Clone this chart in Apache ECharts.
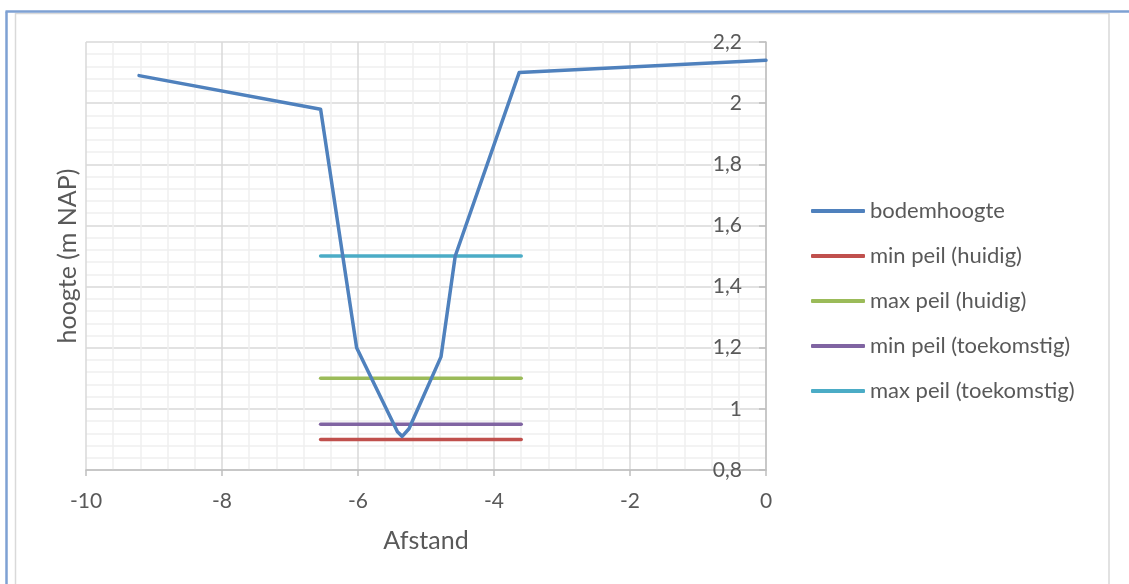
<!DOCTYPE html>
<html>
<head>
<meta charset="utf-8">
<script src="https://cdn.jsdelivr.net/npm/echarts@6/dist/echarts.min.js"></script>
<style>
html,body{margin:0;padding:0;background:#fff;}
#chart{width:1129px;height:584px;}
</style>
</head>
<body>
<div id="chart"></div>
<script>
// Data
var bodemX = [-9.22, -6.55, -6.02, -5.42, -5.35, -5.25, -4.78, -4.57, -3.63, 0];
var bodemY = [2.09, 1.98, 1.20, 0.925, 0.91, 0.935, 1.17, 1.50, 2.10, 2.14];
var peilX = [-6.55, -3.6];
var minPeilHuidig = 0.90;
var maxPeilHuidig = 1.10;
var minPeilToekomstig = 0.95;
var maxPeilToekomstig = 1.50;
var seriesNames = ['bodemhoogte', 'min peil (huidig)', 'max peil (huidig)', 'min peil (toekomstig)', 'max peil (toekomstig)'];
var seriesColors = ['#4F81BD', '#C0504D', '#9BBB59', '#8064A2', '#4BACC6'];
var xTicks = [-10, -8, -6, -4, -2, 0];
var yTicks = [0.8, 1.0, 1.2, 1.4, 1.6, 1.8, 2.0, 2.2];

function pairs(xs, ys) { return xs.map(function (x, i) { return [x, ys[i]]; }); }
function flat(level) { return peilX.map(function (x) { return [x, level]; }); }

var seriesData = [
  pairs(bodemX, bodemY),
  flat(minPeilHuidig),
  flat(maxPeilHuidig),
  flat(minPeilToekomstig),
  flat(maxPeilToekomstig)
];

var FONT = 'Lato, "Open Sans", sans-serif';
var TXT = '#595959';

var chart = echarts.init(document.getElementById('chart'));
chart.setOption({
  animation: false,
  backgroundColor: '#ffffff',
  grid: { left: 86, right: 363, top: 42, bottom: 114, containLabel: false },
  legend: {
    orient: 'vertical',
    left: 806,
    top: 194,
    itemWidth: 54,
    itemHeight: 4,
    itemGap: 21,
    icon: 'roundRect',
    data: seriesNames,
    textStyle: { fontFamily: FONT, fontSize: 22, color: TXT, lineHeight: 24 }
  },
  xAxis: {
    type: 'value',
    min: xTicks[0],
    max: xTicks[xTicks.length - 1],
    interval: 2,
    name: 'Afstand',
    nameLocation: 'middle',
    nameGap: 58,
    nameTextStyle: { fontFamily: FONT, fontSize: 25, color: TXT },
    axisLine: { show: true, onZero: false, lineStyle: { color: '#BFBFBF', width: 1.5 } },
    axisTick: { show: true, length: 6, lineStyle: { color: '#BFBFBF', width: 1.5 } },
    axisLabel: { fontFamily: FONT, fontSize: 21, color: TXT, margin: 21 },
    splitLine: { show: true, lineStyle: { color: '#D9D9D9', width: 1.5 } },
    minorTick: { show: false, splitNumber: 5 },
    minorSplitLine: { show: true, lineStyle: { color: '#F0F0F0', width: 1.5 } }
  },
  yAxis: {
    type: 'value',
    position: 'right',
    min: yTicks[0],
    max: yTicks[yTicks.length - 1],
    interval: 0.2,
    axisLine: { show: true, onZero: false, lineStyle: { color: '#BFBFBF', width: 1.5 } },
    axisTick: { show: true, inside: true, length: 7, lineStyle: { color: '#BFBFBF', width: 1.5 } },
    axisLabel: {
      inside: true,
      margin: 24,
      fontFamily: FONT, fontSize: 21, color: TXT,
      formatter: function (v) { return String(Math.round(v * 10) / 10).replace('.', ','); }
    },
    splitLine: { show: true, lineStyle: { color: '#D9D9D9', width: 1.5 } },
    minorTick: { show: false, splitNumber: 5 },
    minorSplitLine: { show: true, lineStyle: { color: '#F0F0F0', width: 1.5 } }
  },
  series: seriesNames.map(function (n, i) {
    return {
      name: n,
      type: 'line',
      data: seriesData[i],
      showSymbol: false,
      symbol: 'none',
      color: seriesColors[i],
      lineStyle: { width: 3.5, color: seriesColors[i], cap: 'round', join: 'round' },
      z: i === 0 ? 3 : 2
    };
  }),
  graphic: [
    { type: 'line', shape: { x1: 15.5, y1: 13, x2: 15.5, y2: 584 }, style: { stroke: '#D9D9D9', lineWidth: 1.5 }, silent: true },
    { type: 'line', shape: { x1: 15, y1: 13.5, x2: 1109, y2: 13.5 }, style: { stroke: '#D9D9D9', lineWidth: 1.5 }, silent: true },
    { type: 'line', shape: { x1: 1109, y1: 13, x2: 1109, y2: 584 }, style: { stroke: '#D9D9D9', lineWidth: 1.5 }, silent: true },
    { type: 'line', shape: { x1: 6.5, y1: 11.5, x2: 6.5, y2: 584 }, style: { stroke: '#7EA1D3', lineWidth: 2.5 }, silent: true },
    { type: 'line', shape: { x1: 5.5, y1: 11.5, x2: 1129, y2: 11.5 }, style: { stroke: '#7EA1D3', lineWidth: 2.5 }, silent: true },
    {
      type: 'text',
      x: 68, y: 256,
      rotation: Math.PI / 2,
      style: { text: 'hoogte (m NAP)', fontFamily: FONT, fontSize: 25, fill: TXT, align: 'center', verticalAlign: 'middle' },
      silent: true
    }
  ]
});
</script>
</body>
</html>
